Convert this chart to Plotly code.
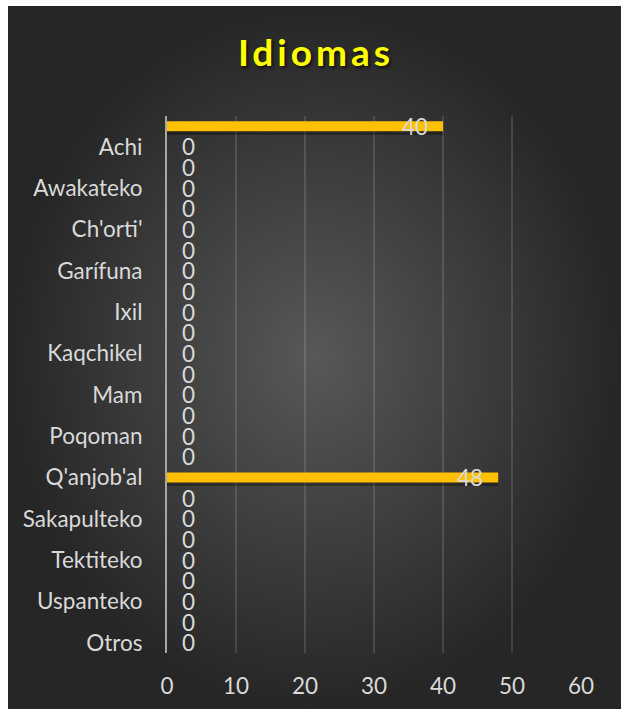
import plotly.graph_objects as go

# ---------------- data ----------------
categories = [
    "Español", "Achi", "Akateko", "Awakateko", "Chalchiteko", "Ch'orti'",
    "Chuj", "Garífuna", "Itza'", "Ixil", "Popti'", "Kaqchikel", "K'iche'",
    "Mam", "Mopan", "Poqoman", "Poqomchi'", "Q'anjob'al", "Q'eqchi'",
    "Sakapulteko", "Sipakapense", "Tektiteko", "Tz'utujil", "Uspanteko",
    "Xinka", "Otros",
]
values = [40, 0, 0, 0, 0, 0, 0, 0, 0, 0, 0, 0, 0, 0, 0, 0, 0, 48, 0, 0, 0, 0, 0, 0, 0, 0]
shown_labels = categories[1::2]          # Excel shows every other category label
x_ticks = [0, 10, 20, 30, 40, 50, 60]
title_text = "Idiomas"

# ---------------- geometry / style ----------------
W, H = 621, 709
def fx(p):
    return p / W
def fy(p):
    return 1 - p / H

LABEL_FONT = dict(family="Lato, 'Open Sans', sans-serif", size=22.5, color="#d9d9d9")
BAR_COLOR = "#FFC000"

fig = go.Figure()

# background radial gradient (chart area)
fig.add_trace(go.Scatter(
    x=[0, 1, 1, 0, 0], y=[0, 0, 1, 1, 0], xaxis="x", yaxis="y",
    mode="lines", fill="toself", line=dict(width=0),
    fillgradient=dict(type="radial", colorscale=[[0, "#585858"], [1, "#262626"]]),
    hoverinfo="skip", showlegend=False,
))

# bar shadow
fig.add_trace(go.Bar(
    x=values, y=categories, orientation="h", xaxis="x2", yaxis="y2",
    width=0.48, offset=-0.06,
    marker=dict(color="rgba(0,0,0,0.30)", line=dict(width=0)),
    hoverinfo="skip", showlegend=False,
))
# bars
fig.add_trace(go.Bar(
    x=values, y=categories, orientation="h", xaxis="x2", yaxis="y2",
    width=0.48,
    marker=dict(color=BAR_COLOR, line=dict(width=0)),
    showlegend=False,
))

# data labels
annotations = []
for c, v in zip(categories, values):
    inside = v > 0
    annotations.append(dict(
        x=v, y=c, xref="x2", yref="y2", text=str(v), showarrow=False,
        xanchor="right" if inside else "left",
        xshift=-13 if inside else 13,
        font=LABEL_FONT,
    ))

fig.update_layout(
    template="none",
    autosize=False,
    width=W, height=H,
    margin=dict(l=0, r=0, t=0, b=0, pad=0, autoexpand=False),
    paper_bgcolor="white",
    plot_bgcolor="rgba(0,0,0,0)",
    barmode="overlay",
    showlegend=False,
    title=dict(
        text='<span style="letter-spacing:4px">' + title_text + "</span>",
        xref="container", yref="container",
        x=fx(316), y=fy(53), xanchor="center", yanchor="middle",
        font=dict(family="Lato, 'Open Sans', sans-serif", size=37, color="#FFFF00",
                  weight="bold", shadow="2px 2px 3px rgba(0,0,0,0.6)"),
    ),
    xaxis=dict(domain=[fx(8), 1], range=[0, 1], visible=False, fixedrange=True,
               automargin=False),
    yaxis=dict(domain=[0, fy(6)], range=[0, 1], visible=False, fixedrange=True,
               automargin=False),
    xaxis2=dict(
        domain=[fx(167), fx(581)], anchor="y2", range=[0, 60],
        tickmode="array", tickvals=x_ticks,
        showgrid=True, gridcolor="rgba(255,255,255,0.13)", gridwidth=1.5,
        zeroline=False, showline=False, ticks="",
        tickfont=LABEL_FONT, ticklabelstandoff=17, automargin=False,
    ),
    yaxis2=dict(
        domain=[fy(653), fy(116)], anchor="x2", type="category",
        categoryorder="array", categoryarray=categories,
        range=[len(categories) - 0.5, -0.5],
        tickmode="array", tickvals=shown_labels, ticktext=shown_labels,
        showgrid=False, zeroline=False,
        showline=True, linecolor="#a6a6a6", linewidth=2,
        ticks="", tickfont=LABEL_FONT, ticklabelstandoff=18, automargin=False,
    ),
    annotations=annotations,
)

fig.write_html("out.html", config={"responsive": False})
